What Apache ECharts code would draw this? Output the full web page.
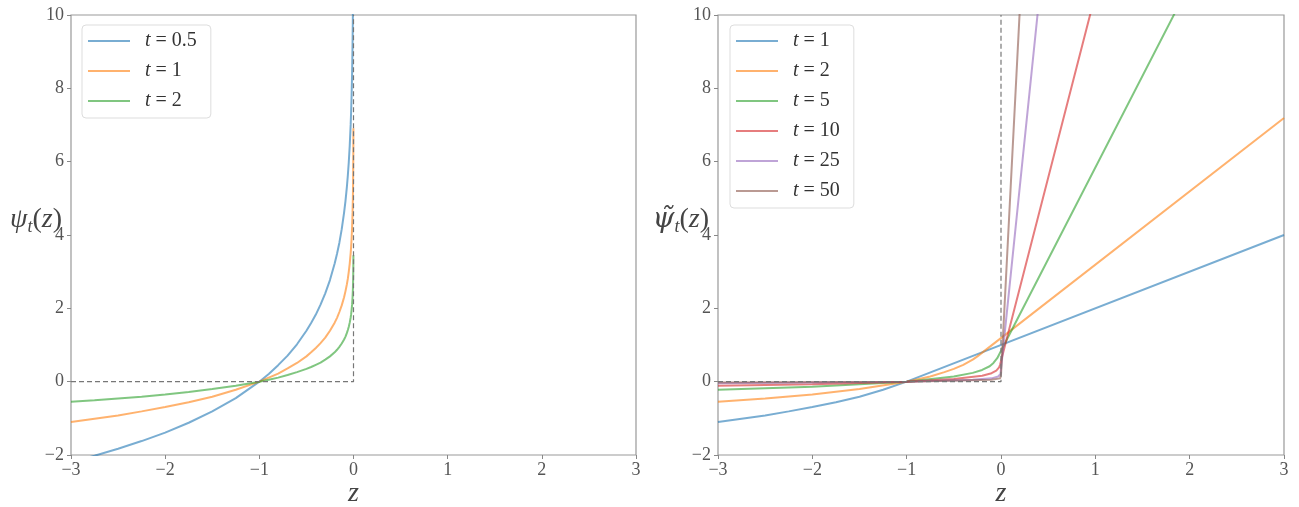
<!DOCTYPE html>
<html>
<head>
<meta charset="utf-8">
<script src="https://cdn.jsdelivr.net/npm/echarts@6/dist/echarts.min.js"></script>
<style>
  html, body { margin: 0; padding: 0; background: #fff; }
  #chart { width: 1299px; height: 507px; }
</style>
</head>
<body>
<div id="chart"></div>
<script>
// left panel: psi_t(z)
const zLeft = [-3, -2.75, -2.5, -2.25, -2, -1.75, -1.5, -1.25, -1, -0.9, -0.8, -0.7, -0.6, -0.5, -0.45, -0.4, -0.35, -0.3, -0.25, -0.2, -0.175, -0.15, -0.125, -0.1, -0.085, -0.07, -0.06, -0.05, -0.04, -0.03, -0.025, -0.02, -0.015, -0.01, -0.007, -0.005, -0.003, -0.002, -0.0015, -0.001];
const yLeftT05 = [-2.20, -2.02, -1.83, -1.62, -1.39, -1.12, -0.81, -0.45, 0, 0.21, 0.45, 0.71, 1.02, 1.39, 1.60, 1.83, 2.10, 2.41, 2.77, 3.22, 3.49, 3.79, 4.16, 4.61, 4.93, 5.32, 5.63, 5.99, 6.44, 7.01, 7.38, 7.82, 8.40, 9.21, 9.92, 10.60, 11.62, 12.43, 13.00, 13.82];
const yLeftT1 = [-1.10, -1.01, -0.92, -0.81, -0.69, -0.56, -0.41, -0.22, 0, 0.11, 0.22, 0.36, 0.51, 0.69, 0.80, 0.92, 1.05, 1.20, 1.39, 1.61, 1.74, 1.90, 2.08, 2.30, 2.47, 2.66, 2.81, 3.00, 3.22, 3.51, 3.69, 3.91, 4.20, 4.61, 4.96, 5.30, 5.81, 6.21, 6.50, 6.91];
const yLeftT2 = [-0.55, -0.51, -0.46, -0.41, -0.35, -0.28, -0.20, -0.11, 0, 0.05, 0.11, 0.18, 0.26, 0.35, 0.40, 0.46, 0.52, 0.60, 0.69, 0.80, 0.87, 0.95, 1.04, 1.15, 1.23, 1.33, 1.41, 1.50, 1.61, 1.75, 1.84, 1.96, 2.10, 2.30, 2.48, 2.65, 2.90, 3.11, 3.25, 3.45];

// right panel: extended psi~_t(z)
const zR1 = [-3, -2.75, -2.5, -2.25, -2, -1.75, -1.5, -1.25, -1, 3];
const yR1 = [-1.10, -1.01, -0.92, -0.81, -0.69, -0.56, -0.41, -0.22, 0, 4.00];
const zR2 = [-3, -2.5, -2, -1.5, -1, -0.75, -0.6, -0.5, -0.4, -0.3, -0.25, 3];
const yR2 = [-0.55, -0.46, -0.35, -0.20, 0, 0.14, 0.26, 0.35, 0.46, 0.60, 0.69, 7.19];
const zR5 = [-3, -2, -1, -0.5, -0.3, -0.2, -0.12, -0.08, -0.06, -0.04, 3];
const yR5 = [-0.22, -0.14, 0, 0.14, 0.24, 0.32, 0.42, 0.51, 0.56, 0.64, 15.84];
const zR10 = [-3, -2, -1, -0.5, -0.2, -0.1, -0.05, -0.03, -0.02, -0.01, 3];
const yR10 = [-0.11, -0.07, 0, 0.07, 0.16, 0.23, 0.30, 0.35, 0.39, 0.46, 30.56];
const zR25 = [-3, -1, -0.3, -0.1, -0.03, -0.01, -0.005, -0.0016, 3];
const yR25 = [-0.04, 0, 0.05, 0.09, 0.14, 0.18, 0.21, 0.26, 75.30];
const zR50 = [-3, -1, -0.1, -0.01, -0.002, -0.0004, 3];
const yR50 = [-0.02, 0, 0.05, 0.09, 0.12, 0.16, 150.18];

// dashed reference (step at z = 0)
const zRef = [-3, 0, 0];
const yRef = [0, 0, 10];

const xTicks = { min: -3, max: 3, interval: 1 };
const yTicks = { min: -2, max: 10, interval: 2 };

const serif = "Liberation Serif";
const colors = {
  blue: "rgba(31,119,180,0.6)",
  orange: "rgba(255,127,14,0.6)",
  green: "rgba(44,160,44,0.6)",
  red: "rgba(214,39,40,0.6)",
  purple: "rgba(148,103,189,0.6)",
  brown: "rgba(140,86,75,0.6)",
};

const zip = (xs, ys) => xs.map((x, i) => [x, ys[i]]);
const fmtTick = (v) => (v < 0 ? "\u2212" + -v : String(v));

const chart = echarts.init(document.getElementById("chart"));

function xAxisFor(idx) {
  return {
    gridIndex: idx,
    type: "value",
    ...xTicks,
    axisLine: { show: false, onZero: false },
    axisTick: { show: true, length: 4, lineStyle: { color: "#888" } },
    splitLine: { show: false },
    axisLabel: { formatter: fmtTick, color: "#555", fontFamily: serif, fontSize: 18, margin: 6 },
    name: "z",
    nameLocation: "middle",
    nameGap: 25,
    nameMoveOverlap: false,
    nameTextStyle: { fontFamily: serif, fontStyle: "italic", fontSize: 28, color: "#444" },
  };
}

function yAxisFor(idx, name, psiFont) {
  return {
    gridIndex: idx,
    type: "value",
    ...yTicks,
    axisLine: { show: false, onZero: false },
    axisTick: { show: true, length: 4, lineStyle: { color: "#888" } },
    splitLine: { show: false },
    axisLabel: { formatter: fmtTick, color: "#555", fontFamily: serif, fontSize: 18, margin: 7 },
    name: name,
    nameLocation: "middle",
    nameRotate: 0,
    nameGap: 9,
    nameMoveOverlap: false,
    nameTextStyle: {
      align: "right",
      padding: [0, 0, 30, 0],
      color: "#444",
      rich: {
        a: { fontFamily: psiFont, fontStyle: "italic", fontSize: 28, color: "#444" },
        z: { fontFamily: serif, fontStyle: "italic", fontSize: 28, color: "#444" },
        s: { fontFamily: serif, fontStyle: "italic", fontSize: 18, color: "#444", padding: [14, 0, 0, 0] },
        p: { fontFamily: serif, fontSize: 28, color: "#444" },
      },
    },
  };
}

function line(name, data, color, xi) {
  return {
    name: name,
    type: "line",
    xAxisIndex: xi,
    yAxisIndex: xi,
    data: data,
    symbol: "none",
    clip: true,
    color: color,
    lineStyle: { width: 2, color: color },
    z: 3,
  };
}

function dashed(xi) {
  return {
    type: "line",
    xAxisIndex: xi,
    yAxisIndex: xi,
    data: zip(zRef, yRef),
    symbol: "none",
    silent: true,
    lineStyle: { width: 1.2, type: [5, 3], color: "#777" },
    z: 4,
  };
}

function legendFor(left, names) {
  return {
    data: names.map((n) => ({ name: n, icon: "rect" })),
    orient: "vertical",
    left: left,
    top: 25,
    itemWidth: 42,
    itemHeight: 2,
    itemGap: 10,
    padding: [6, 14, 7, 6],
    borderColor: "#ddd",
    borderWidth: 1,
    borderRadius: 4,
    backgroundColor: "rgba(255,255,255,0.85)",
    selectedMode: false,
    formatter: (n) => "{i|t} = " + n.split(":")[1],
    textStyle: {
      fontFamily: serif,
      fontSize: 20,
      color: "#333",
      lineHeight: 20,
      padding: [0, 0, 0, 10],
      rich: { i: { fontFamily: serif, fontStyle: "italic", fontSize: 20, color: "#333" } },
    },
  };
}

const option = {
  backgroundColor: "#fff",
  animation: false,
  grid: [
    { left: 71, top: 15, width: 565, height: 440, show: true, borderColor: "#999", borderWidth: 1.2, outerBoundsMode: "none", containLabel: false },
    { left: 718, top: 15, width: 566, height: 440, show: true, borderColor: "#999", borderWidth: 1.2, outerBoundsMode: "none", containLabel: false },
  ],
  xAxis: [xAxisFor(0), xAxisFor(1)],
  yAxis: [
    yAxisFor(0, "{a|ψ}{s|t}{p|(}{z|z}{p|)}", serif),
    yAxisFor(1, "{a|ψ\u0303}{s|t}{p|(}{z|z}{p|)}", "DejaVu Serif"),
  ],
  legend: [
    legendFor(82, ["L:0.5", "L:1", "L:2"]),
    legendFor(730, ["R:1", "R:2", "R:5", "R:10", "R:25", "R:50"]),
  ],
  series: [
    dashed(0),
    line("L:0.5", zip(zLeft, yLeftT05), colors.blue, 0),
    line("L:1", zip(zLeft, yLeftT1), colors.orange, 0),
    line("L:2", zip(zLeft, yLeftT2), colors.green, 0),
    dashed(1),
    line("R:1", zip(zR1, yR1), colors.blue, 1),
    line("R:2", zip(zR2, yR2), colors.orange, 1),
    line("R:5", zip(zR5, yR5), colors.green, 1),
    line("R:10", zip(zR10, yR10), colors.red, 1),
    line("R:25", zip(zR25, yR25), colors.purple, 1),
    line("R:50", zip(zR50, yR50), colors.brown, 1),
  ],
};

chart.setOption(option);
</script>
</body>
</html>
